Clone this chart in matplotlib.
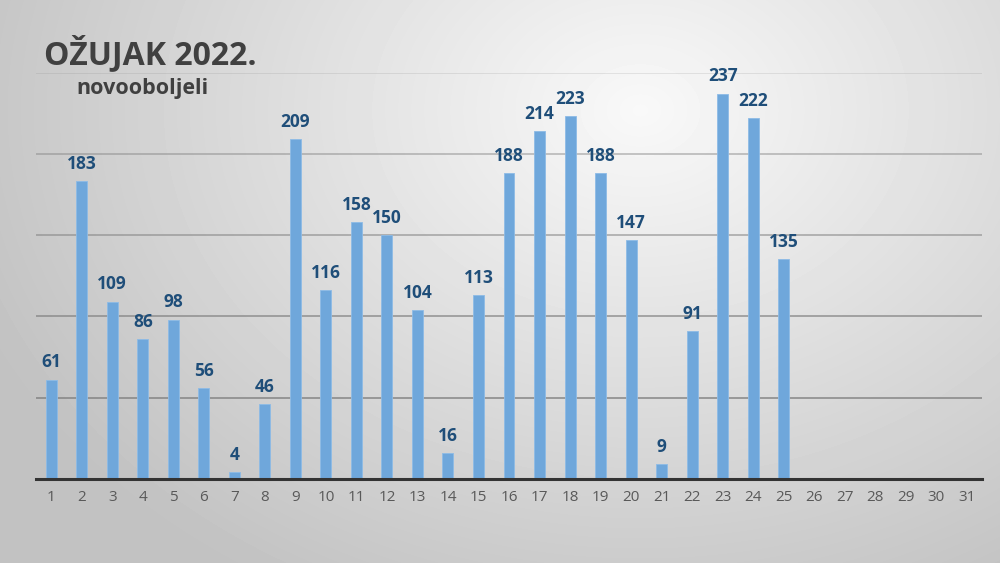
import numpy as np
import matplotlib.pyplot as plt

days = [str(d) for d in range(1, 32)]
cases = [61, 183, 109, 86, 98, 56, 4, 46, 209, 116, 158, 150, 104, 16, 113,
         188, 214, 223, 188, 147, 9, 91, 237, 222, 135]
title = "OŽUJAK 2022."
subtitle = "novooboljeli"


def main():
    fig = plt.figure(figsize=(10, 5.63), dpi=100)

    # radial grey background
    bg = fig.add_axes([0, 0, 1, 1], zorder=0)
    yy, xx = np.mgrid[0:563, 0:1000]
    r = np.hypot((xx - 640) / 700, (yy - 110) / 540)
    shade = np.clip(0.975 - 0.21 * r, 0.76, 0.975)
    bg.imshow(shade, cmap='gray', vmin=0, vmax=1, aspect='auto',
              extent=[0, 1, 0, 1], origin='upper')
    bg.axis('off')

    ax = fig.add_axes([0.036, 0.1492, 0.946, 0.722], zorder=1)
    ax.patch.set_alpha(0)
    x = np.arange(1, len(days) + 1)
    bars = ax.bar(x[:len(cases)], cases, width=0.36, color='#6fa7db',
                  edgecolor='#8dbbe6', linewidth=0.6, zorder=3)

    for b, v in zip(bars, cases):
        ax.annotate(str(v), (b.get_x() + b.get_width() / 2, v),
                    xytext=(0, 6), textcoords='offset points',
                    ha='center', va='bottom', fontsize=12.5,
                    fontweight='bold', color='#1f4e79', family='Open Sans')

    ax.set_xlim(0.5, 31.5)
    ax.set_ylim(0, 250)
    ax.set_yticks([50, 100, 150, 200, 250])
    ax.yaxis.grid(True, color='#7f7f7f', linewidth=1.2, zorder=1)
    # grid fades towards the top, as in the source slide
    for gl, a in zip(ax.get_ygridlines(), [0.85, 0.75, 0.6, 0.5, 0.2]):
        gl.set_alpha(a)
    ax.tick_params(axis='y', left=False, labelleft=False)
    ax.set_xticks(x)
    ax.set_xticklabels(days, fontsize=11, color='#595959', family='Open Sans')
    ax.tick_params(axis='x', length=0, pad=8)
    for s in ['top', 'right', 'left']:
        ax.spines[s].set_visible(False)
    ax.spines['bottom'].set_color('#333333')
    ax.spines['bottom'].set_linewidth(2.2)
    ax.spines['bottom'].set_zorder(4)

    fig.text(0.044, 0.905, title, fontsize=23, fontweight='bold',
             color='#404040', family='Open Sans', va='center')
    fig.text(0.076, 0.843, subtitle, fontsize=15.5, fontweight='bold',
             color='#404040', family='Open Sans', va='center')

    fig.savefig('out.png', dpi=100)
    plt.close(fig)


if __name__ == "__main__":
    main()
